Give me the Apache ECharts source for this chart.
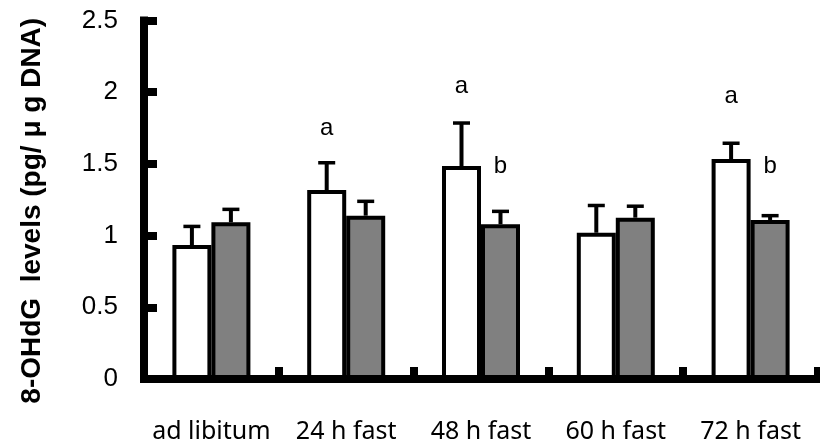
<!DOCTYPE html>
<html>
<head>
<meta charset="utf-8">
<script src="https://cdn.jsdelivr.net/npm/echarts@6/dist/echarts.min.js"></script>
<style>html,body{margin:0;padding:0;background:#fff;}#c{width:820px;height:445px;}</style>
</head>
<body>
<div id="c"></div>
<script>
var categories = ['ad libitum', '24 h fast', '48 h fast', '60 h fast', '72 h fast'];
var whiteValues = [0.934, 1.318, 1.485, 1.02, 1.534];
var whiteErr = [0.13, 0.19, 0.30, 0.19, 0.11];
var grayValues = [1.093, 1.139, 1.079, 1.125, 1.109];
var grayErr = [0.09, 0.10, 0.09, 0.08, 0.03];
var whiteLetters = ['', 'a', 'a', '', 'a'];
var whiteLetterY = [null, 1.75, 2.04, null, 1.97];
var grayLetters = ['', '', 'b', '', 'b'];
var grayLetterY = [null, null, 1.48, null, 1.48];
var yTicks = [0, 0.5, 1, 1.5, 2, 2.5];

var BAR_W = 39;
var HALF = BAR_W / 2;

function errData(vals, errs) {
  return vals.map(function (v, i) { return [i, v, v + errs[i]]; });
}
function letterData(letters, ys) {
  var out = [];
  letters.forEach(function (t, i) { if (t) out.push([i, ys[i], t]); });
  return out;
}
function errRender(offset) {
  return function (params, api) {
    var i = api.value(0);
    var p0 = api.coord([i, api.value(1)]);
    var p1 = api.coord([i, api.value(2)]);
    var x = p0[0] + offset;
    return {
      type: 'group',
      children: [
        { type: 'line', shape: { x1: x, y1: p0[1], x2: x, y2: p1[1] }, style: { stroke: '#000', lineWidth: 4 } },
        { type: 'line', shape: { x1: x - 8.5, y1: p1[1], x2: x + 8.5, y2: p1[1] }, style: { stroke: '#000', lineWidth: 3.5 } }
      ]
    };
  };
}
function letterRender(offset) {
  return function (params, api) {
    var i = api.value(0);
    var p = api.coord([i, api.value(1)]);
    return {
      type: 'text',
      x: p[0] + offset,
      y: p[1],
      style: {
        text: api.value(2),
        fill: '#000',
        font: '24px "Liberation Sans", Arial, sans-serif',
        align: 'center',
        verticalAlign: 'middle'
      }
    };
  };
}

var chart = echarts.init(document.getElementById('c'), null, { renderer: 'canvas' });
chart.setOption({
  animation: false,
  backgroundColor: '#fff',
  grid: { left: 144, right: 2, top: 20.5, bottom: 66, containLabel: false },
  xAxis: {
    type: 'category',
    data: categories,
    axisLine: { show: true, lineStyle: { color: '#000', width: 8, cap: 'square' } },
    axisTick: { show: true, inside: true, length: 12, lineStyle: { color: '#000', width: 8 } },
    axisLabel: { interval: 0, color: '#000', fontSize: 25, fontFamily: '"Noto Sans", sans-serif', margin: 40 },
    splitLine: { show: false }
  },
  yAxis: {
    type: 'value',
    min: 0,
    max: 2.5,
    interval: 0.5,
    name: '8-OHdG  levels (pg/ μ g DNA)',
    nameLocation: 'middle',
    nameGap: 98,
    nameRotate: 90,
    nameTextStyle: { color: '#000', fontSize: 28, fontWeight: 'bold', fontFamily: '"Liberation Sans", Arial, sans-serif', padding: [0, 22, 0, 0] },
    axisLine: { show: true, lineStyle: { color: '#000', width: 8, cap: 'square' } },
    axisTick: { show: true, inside: true, length: 13, lineStyle: { color: '#000', width: 8 } },
    axisLabel: {
      color: '#000', fontSize: 26, fontFamily: '"Liberation Sans", Arial, sans-serif', margin: 26,
      formatter: function (v) { return yTicks.indexOf(v) >= 0 ? String(v) : ''; }
    },
    splitLine: { show: false }
  },
  series: [
    {
      type: 'bar', data: whiteValues, barWidth: BAR_W, barGap: '0%',
      itemStyle: { color: '#fff', borderColor: '#000', borderWidth: 4 }, z: 2
    },
    {
      type: 'bar', data: grayValues, barWidth: BAR_W, barGap: '0%',
      itemStyle: { color: '#808080', borderColor: '#000', borderWidth: 4 }, z: 2
    },
    { type: 'custom', data: errData(whiteValues, whiteErr), renderItem: errRender(-HALF), z: 3, encode: { x: 0, y: [1, 2] } },
    { type: 'custom', data: errData(grayValues, grayErr), renderItem: errRender(HALF), z: 3, encode: { x: 0, y: [1, 2] } },
    { type: 'custom', data: letterData(whiteLetters, whiteLetterY), renderItem: letterRender(-HALF), z: 4, encode: { x: 0, y: 1 } },
    { type: 'custom', data: letterData(grayLetters, grayLetterY), renderItem: letterRender(HALF), z: 4, encode: { x: 0, y: 1 } }
  ]
});
</script>
</body>
</html>
